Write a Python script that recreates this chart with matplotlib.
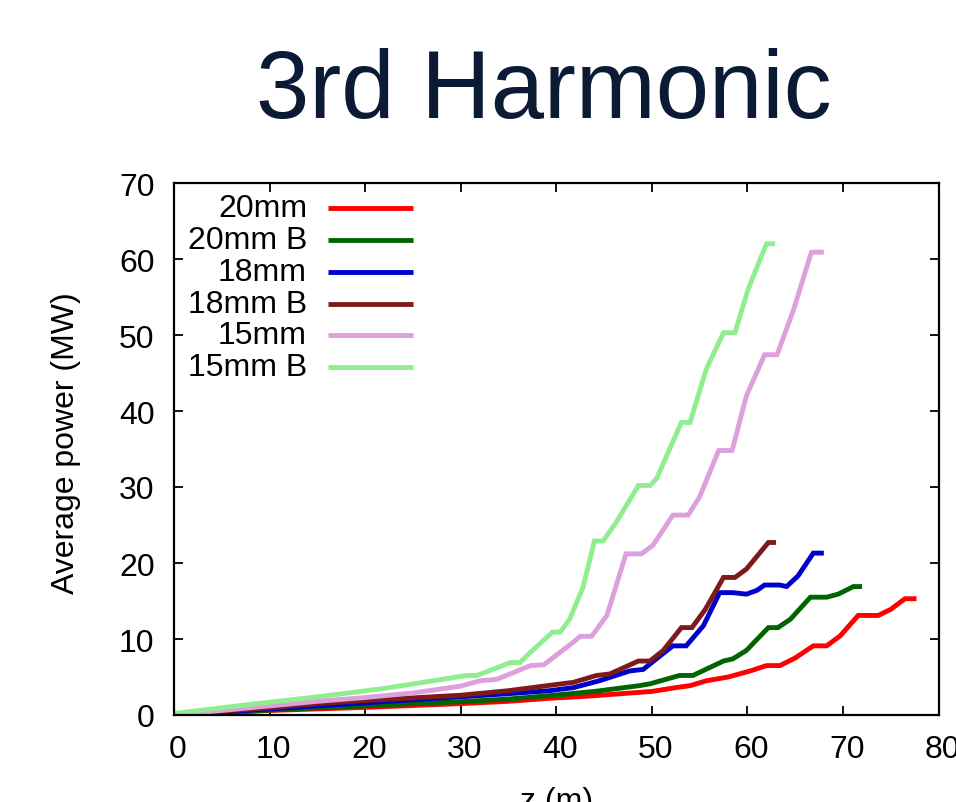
import matplotlib
matplotlib.use("Agg")
import matplotlib.pyplot as plt
import matplotlib.transforms as mtransforms

plt.rcParams['font.family'] = ['Liberation Sans', 'DejaVu Sans']

# ---------------- data ----------------
labels = ["20mm", "20mm B", "18mm", "18mm B", "15mm", "15mm B"]
colors = ["#ff0000", "#006400", "#0000cd", "#7f1a1a", "#dda0dd", "#90ee90"]

z_20 = [0, 5, 10, 15, 20, 25, 30, 35, 39.3, 43, 46.3, 50, 52.5, 54, 55.7, 58,
        60.3, 62, 63.4, 65, 66.9, 68.3, 69.7, 71.6, 73.7, 75, 76.5, 77.7]
p_20 = [0, 0.3, 0.6, 0.8, 1.0, 1.25, 1.5, 1.8, 2.2, 2.45, 2.76, 3.1, 3.6, 3.86, 4.5, 5.0,
        5.8, 6.5, 6.5, 7.5, 9.1, 9.1, 10.4, 13.1, 13.1, 13.9, 15.3, 15.3]

z_20B = [0, 5, 10, 15, 20, 25, 30, 35, 39.3, 44, 48.7, 49.8, 52.9, 54.3, 57.5, 58.5,
         59.9, 62.2, 63.2, 64.5, 66.6, 68.3, 69.5, 71.1, 72.0]
p_20B = [0, 0.3, 0.65, 0.95, 1.2, 1.5, 1.75, 2.1, 2.54, 3.1, 3.86, 4.1, 5.2, 5.2, 7.1, 7.4,
         8.5, 11.5, 11.5, 12.6, 15.5, 15.5, 15.9, 16.9, 16.9]

z_18 = [0, 5, 10, 15, 20, 25, 30, 35, 39.3, 41.8, 44.5, 47.7, 49.1, 49.8, 52.2, 53.6,
        55.4, 57.1, 58.5, 59.9, 61.0, 61.8, 63.4, 64.1, 65.3, 66.9, 68.0]
p_18 = [0, 0.4, 0.8, 1.2, 1.6, 2.0, 2.4, 2.8, 3.2, 3.6, 4.5, 5.8, 6.0, 6.7, 9.1, 9.1,
        11.75, 16.1, 16.1, 15.9, 16.4, 17.1, 17.1, 16.9, 18.3, 21.3, 21.3]

z_18B = [0, 5, 10, 15, 20, 25, 30, 35, 39.3, 41.8, 44.2, 45.6, 48.6, 49.8, 51.2, 53.1,
         54.2, 55.6, 57.5, 58.7, 59.9, 62.2, 63.0]
p_18B = [0, 0.5, 0.95, 1.5, 1.9, 2.25, 2.6, 3.2, 3.9, 4.3, 5.2, 5.4, 7.1, 7.1, 8.5, 11.5,
         11.5, 13.9, 18.1, 18.1, 19.2, 22.7, 22.7]

z_15 = [0, 5, 10, 15, 20, 25, 30, 32, 33.8, 37.3, 38.7, 41.8, 42.5, 43.7, 45.3, 47.3,
        48.9, 50.1, 52.2, 53.8, 55.0, 57.0, 58.4, 59.9, 61.8, 63.1, 64.8, 66.7, 68.0]
p_15 = [0, 0.6, 1.2, 1.8, 2.3, 2.9, 3.8, 4.5, 4.7, 6.5, 6.6, 9.6, 10.35, 10.35, 13.1, 21.2,
        21.2, 22.3, 26.3, 26.3, 28.7, 34.8, 34.8, 42.0, 47.4, 47.4, 53.2, 60.9, 60.9]

z_15B = [0, 4, 8.3, 13, 17.4, 22, 26.1, 30.6, 31.7, 35.2, 36.2, 37.3, 39.6, 40.4, 41.4,
         42.8, 44.0, 44.9, 46.3, 48.6, 49.8, 50.5, 53.1, 54.0, 55.7, 57.5, 58.7, 60.1, 62.0, 62.9]
p_15B = [0.2, 0.8, 1.45, 2.1, 2.76, 3.5, 4.3, 5.2, 5.2, 6.9, 6.9, 8.25, 10.9, 10.9, 12.6,
         16.8, 22.9, 22.9, 25.4, 30.2, 30.2, 31.1, 38.5, 38.5, 45.5, 50.3, 50.3, 56.1, 62.0, 62.0]

series = [(z_20, p_20), (z_20B, p_20B), (z_18, p_18), (z_18B, p_18B), (z_15, p_15), (z_15B, p_15B)]

x_ticks = [0, 10, 20, 30, 40, 50, 60, 70, 80]
y_ticks = [0, 10, 20, 30, 40, 50, 60, 70]

# ---------------- figure ----------------
W, H = 956, 803
FS = 23
fig = plt.figure(figsize=(W / 100, H / 100), dpi=100)
ax = fig.add_axes([174 / W, 1 - 716 / H, (938.5 - 174) / W, (716 - 184) / H])

for (zs, ps), c in zip(series, colors):
    ax.plot(zs, ps, color=c, lw=3.5, solid_joinstyle='miter', solid_capstyle='butt')

ax.set_xlim(0, 80)
ax.set_ylim(0, 70)
ax.set_xticks(x_ticks)
ax.set_yticks(y_ticks)
ax.tick_params(direction='in', length=6.5, width=1.3, top=True, right=True,
               labelsize=FS, colors='black')
ax.tick_params(axis='x', pad=13.5)
ax.tick_params(axis='y', pad=14)
for sp in ax.spines.values():
    sp.set_linewidth(1.6)

# gnuplot places x tick labels a few pixels right of the tick
shift = mtransforms.ScaledTranslation(4 / 100, 0, fig.dpi_scale_trans)
for lab in ax.get_xticklabels():
    lab.set_transform(lab.get_transform() + shift)

ax.set_xlabel("z (m)", fontsize=FS)
ax.set_ylabel("Average power (MW)", fontsize=FS)
ax.xaxis.set_label_coords(0.5, -0.133)
ax.yaxis.set_label_coords(-0.122, 0.513)

# gnuplot-style key: right-aligned text followed by line sample
row_y = [0.9524 - 0.0597 * i for i in range(len(labels))]
for lab, c, yy in zip(labels, colors, row_y):
    ax.text(0.1740, yy, lab, transform=ax.transAxes, ha='right', va='center',
            fontsize=FS)
    ax.plot([0.2015, 0.3125], [yy, yy], transform=ax.transAxes, color=c, lw=3.5,
            solid_capstyle='butt')

fig.text(543.5 / W, 1 - 118 / H, "3rd Harmonic", ha='center', va='baseline',
         fontsize=69, color='#0b1b35')

fig.savefig("out.png", dpi=100)
